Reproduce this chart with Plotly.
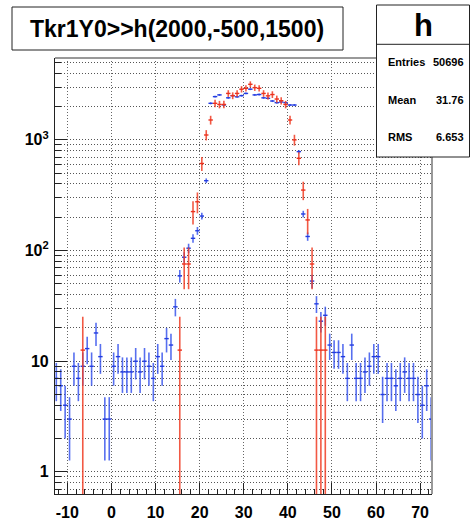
import numpy as np
import plotly.graph_objects as go

# ---------------- data ----------------
blue_x = [v + 0.5 for v in range(-13, 73)]
blue_y = [7, 6, 4, 3, 9, 7, 9, 13, 9, 18, 11, 3, 3, 9, 11, 8, 8, 8, 10, 8,
          10, 9, 7, 11, 9, 16, 14, 31, 59, 87, 105, 129, 151, 205, 428, 2140,
          2460, 2550, 2070, 2400, 2510, 2450, 2510, 2630, 2870, 2550, 2570,
          2400, 2375, 2245, 2170, 2200, 2170, 2066, 2066, 783, 214, 134, 53,
          33, 23, 26, 14, 12, 12, 11, 7, 14, 7, 7, 8, 9, 11, 11, 5, 7, 7, 6,
          7, 8, 7, 7, 5, 4, 6, 3]

red_weight = 12.6
red_x = [-6.5, 15.5, 16.5, 17.5, 18.5, 19.5, 20.5, 21.5, 22.5, 23.5, 24.5,
         25.5, 26.5, 27.5, 28.5, 29.5, 30.5, 31.5, 32.5, 33.5, 34.5, 35.5,
         36.5, 37.5, 38.5, 39.5, 40.5, 41.5, 42.5, 43.5, 44.5, 45.5, 46.5,
         47.5, 48.5]
red_y = [12.6, 12.6, 75.6, 75.6, 225, 276, 612, 1107, 1513, 2140, 2090, 2090,
         2630, 2510, 2630, 2870, 2925, 3180, 2965, 2925, 2630, 2500, 2570,
         2340, 2260, 2090, 1513, 1000, 682, 352, 189, 75.6, 12.6, 12.6, 12.6]

x_tickvals = [-10, 0, 10, 20, 30, 40, 50, 60, 70]
x_ticktext = ["-10", "0", "10", "20", "30", "40", "50", "60", "70"]
y_tickvals = [1, 10, 100, 1000]
y_ticktext = ["1", "10", "10<sup>2</sup>", "10<sup>3</sup>"]
y_minor = [m * 10 ** d for d in range(-1, 4) for m in range(2, 10)]

title_text = "Tkr1Y0>>h(2000,-500,1500)"
stats_name = "h"
stats_labels = ["Entries", "Mean", "RMS"]
stats_values = ["50696", "31.76", "6.653"]

# ---------------- figure ----------------
W, H = 470, 520
ML, MR, MT, MB = 55, 38, 58, 26
PW, PH = W - ML - MR, H - MT - MB
FONT = "Liberation Sans, Arial, sans-serif"


def px2paper_x(px):
    return (px - ML) / PW


def px2paper_y(py):
    return (H - MB - py) / PH


fig = go.Figure()

b_err = np.sqrt(np.array(blue_y, dtype=float))
b_minus = np.minimum(b_err, np.array(blue_y) * 0.99999)
fig.add_trace(go.Scatter(
    x=blue_x, y=blue_y, mode="markers",
    marker=dict(size=2, opacity=0),
    error_y=dict(type="data", array=b_err, arrayminus=b_minus, symmetric=False,
                 color="rgba(45,75,235,0.8)", thickness=1.6, width=0),
    error_x=dict(type="data", array=[0.5] * len(blue_x), symmetric=True,
                 color="rgb(35,60,225)", thickness=1.4, width=0),
    showlegend=False, hoverinfo="skip"))

r_err = np.sqrt(np.array(red_y) * red_weight)
r_minus = np.minimum(r_err, np.array(red_y) * 0.99999)
fig.add_trace(go.Scatter(
    x=red_x, y=red_y, mode="markers",
    marker=dict(size=2, opacity=0),
    error_y=dict(type="data", array=r_err, arrayminus=r_minus, symmetric=False,
                 color="rgba(240,60,35,0.85)", thickness=1.6, width=0),
    error_x=dict(type="data", array=[0.5] * len(red_x), symmetric=True,
                 color="rgb(235,50,30)", thickness=1.4, width=0),
    showlegend=False, hoverinfo="skip"))

tickfont = dict(family=FONT, size=16, color="black", weight="bold")
GRID_DASH = "1px,2px"

fig.update_xaxes(
    range=[-12.8, 72.7], automargin=False, showline=True, linecolor="#222",
    linewidth=1.2, mirror=False, tickvals=x_tickvals, ticktext=x_ticktext,
    ticks="inside", ticklen=11, tickcolor="#222", tickwidth=1,
    tickfont=tickfont, ticklabelstandoff=4,
    showgrid=True, gridcolor="#666", griddash=GRID_DASH, gridwidth=1,
    zeroline=False,
    minor=dict(ticks="inside", ticklen=5, dtick=2, tick0=0,
               tickcolor="#222", showgrid=False))

fig.update_yaxes(
    type="log", range=[-0.2, 3.74], automargin=False, showline=True,
    linecolor="#222", linewidth=1.2, mirror=False, tickvals=y_tickvals,
    ticktext=y_ticktext, ticks="inside", ticklen=12, tickcolor="#222",
    tickwidth=1, tickfont=tickfont, ticklabelstandoff=2,
    showgrid=True, gridcolor="#555", griddash=GRID_DASH,
    gridwidth=1, zeroline=False,
    minor=dict(ticks="inside", ticklen=6, tickvals=y_minor, tickcolor="#222",
               showgrid=True, gridcolor="#555", griddash=GRID_DASH,
               gridwidth=1))

# frame top / right (lighter grey)
fig.add_shape(type="line", xref="paper", yref="paper", x0=0, x1=1, y0=1, y1=1,
              line=dict(color="#999", width=2))
fig.add_shape(type="line", xref="paper", yref="paper", x0=1, x1=1, y0=0, y1=1,
              line=dict(color="#999", width=2))

# title box
fig.add_shape(type="rect", xref="paper", yref="paper",
              x0=px2paper_x(12), x1=px2paper_x(343),
              y0=px2paper_y(50), y1=px2paper_y(7),
              line=dict(color="#222", width=1), fillcolor="white", layer="above")
fig.add_annotation(xref="paper", yref="paper", x=px2paper_x(176.5),
                   y=px2paper_y(29), text=title_text, showarrow=False,
                   xanchor="center", yanchor="middle",
                   font=dict(family=FONT, size=23, color="black",
                             weight="bold"))

# stats box
fig.add_shape(type="rect", xref="paper", yref="paper",
              x0=px2paper_x(376.5), x1=px2paper_x(469.5),
              y0=px2paper_y(157), y1=px2paper_y(5),
              line=dict(color="#222", width=1), fillcolor="white", layer="above")
fig.add_shape(type="line", xref="paper", yref="paper",
              x0=px2paper_x(376.5), x1=px2paper_x(469.5),
              y0=px2paper_y(44.3), y1=px2paper_y(44.3),
              line=dict(color="#222", width=1), layer="above")
fig.add_annotation(xref="paper", yref="paper", x=px2paper_x(423),
                   y=px2paper_y(25), text=stats_name, showarrow=False,
                   xanchor="center", yanchor="middle",
                   font=dict(family=FONT, size=31, color="black",
                             weight="bold"))
for i, (lab, val) in enumerate(zip(stats_labels, stats_values)):
    ypx = 62 + i * 37.7
    fig.add_annotation(xref="paper", yref="paper", x=px2paper_x(386),
                       y=px2paper_y(ypx), text=lab, showarrow=False,
                       xanchor="left", yanchor="middle",
                       font=dict(family=FONT, size=11, color="black",
                                 weight="bold"))
    fig.add_annotation(xref="paper", yref="paper", x=px2paper_x(466),
                       y=px2paper_y(ypx), text=val, showarrow=False,
                       xanchor="right", yanchor="middle",
                       font=dict(family=FONT, size=11, color="black",
                                 weight="bold"))

fig.update_layout(
    width=W, height=H, margin=dict(l=ML, r=MR, t=MT, b=MB, pad=0),
    paper_bgcolor="white", plot_bgcolor="white", showlegend=False)

fig.write_html("out.html")
